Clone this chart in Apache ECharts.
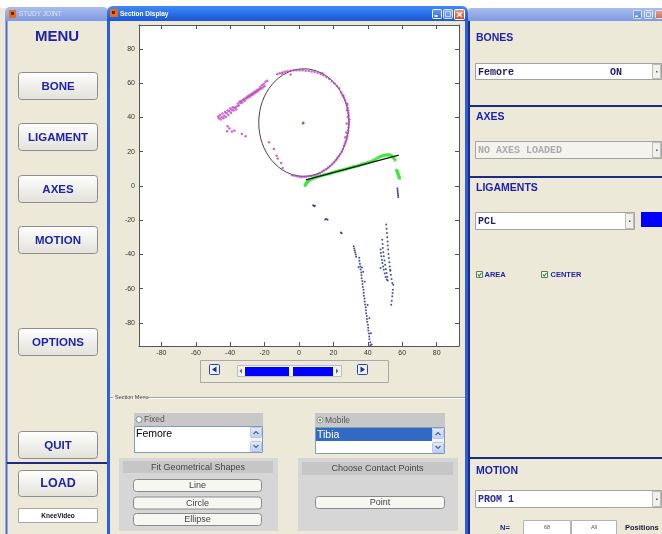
<!DOCTYPE html>
<html><head><meta charset="utf-8">
<script src="https://cdn.jsdelivr.net/npm/echarts@6/dist/echarts.min.js"></script>
<style>html,body{margin:0;padding:0;background:#fff;overflow:hidden}#c{width:662px;height:534px}</style>
</head><body><div id="c"></div>
<script>
// ---------- data ----------
const xTicks = [-80, -60, -40, -20, 0, 20, 40, 60, 80];
const yTicks = [-80, -60, -40, -20, 0, 20, 40, 60, 80];
const xRange = [-93, 93];
const yRange = [-93.5, 94];

// femur contour (magenta)
const femurPoints = [
  [-12.6,65.2],[-11.2,65.8],[-9.6,66.3],[-8.1,66.7],[-6.6,67.0],[-5.0,67.3],[-3.2,67.5],[-1.5,67.6],[0.4,67.6],[2.2,67.6],
  [3.9,67.3],[5.7,67.2],[7.4,66.9],[9.1,66.6],[10.9,66.1],[12.6,65.4],[14.3,64.6],[15.9,63.6],[17.6,62.5],[19.1,61.2],
  [20.6,59.8],[22.0,58.4],[23.3,57.0],[24.5,54.6],[25.4,53.0],[26.2,51.5],[26.8,50.0],[27.4,48.5],[27.9,47.0],[28.3,45.5],
  [28.6,44.0],[28.7,42.5],[28.9,41.0],[29.2,39.0],[29.1,37.5],[29.0,35.9],[28.8,34.2],[28.5,32.5],[28.2,30.8],[28.0,29.2],
  [27.6,27.6],[27.2,26.1],[26.7,24.8],[26.1,23.4],[25.5,21.6],[24.9,20.0],[24.0,18.7],[23.0,17.4],[22.2,16.2],[21.3,15.0],
  [20.3,13.8],[19.2,12.6],[18.1,11.6],[17.0,10.7],[15.8,9.8],[14.6,9.0],[13.4,8.3],[12.2,7.6],[10.9,7.0],[9.6,6.4],
  [8.3,6.1],[7.0,5.8],[5.6,5.6],[4.2,5.4],[2.9,5.3],[1.5,5.2],[0.2,5.4],[-1.2,5.6],[-2.6,5.9],[-4.0,6.3],
  [27.9,44.2],[28.4,40.2],[27.7,36.4],[27.5,31.2],[26.9,28.4],[28.1,47.9],[25.8,52.7],[13.5,65.8],[-4.9,65.1],[-9.8,65.6],
  [-17.5,25.5],[-14.6,21.6],[-13.0,17.6],[-12.4,16.0],[-10.4,13.4],[-9.5,10.5],
  [-47.0,40.5],[-46.5,39.5],[-46.0,41.5],[-45.5,38.8],[-45.0,40.2],[-44.5,42.3],[-44.0,39.6],[-43.5,41.0],[-43.0,43.2],[-42.5,40.3],
  [-42.0,42.5],[-41.5,44.0],[-41.0,41.5],[-40.5,43.6],[-40.0,45.2],[-39.5,42.8],[-39.0,44.5],[-38.5,46.0],[-38.0,44.0],[-37.5,45.5],
  [-37.0,45.8],[-36.5,44.6],[-36.0,46.5],[-35.5,48.2],[-35.0,47.0],[-34.5,49.3],[-34.0,48.5],[-33.5,49.6],[-33.0,48.8],[-32.5,50.2],
  [-32.0,50.6],[-31.5,49.7],[-31.0,51.3],[-30.5,51.0],[-30.0,52.2],[-29.5,51.6],[-29.0,52.8],[-28.5,52.2],[-28.0,53.5],[-27.5,53.0],
  [-27.0,54.2],[-26.5,53.6],[-26.0,54.8],[-25.5,54.4],[-25.0,55.6],[-24.5,55.0],[-24.0,56.2],[-23.5,55.8],[-23.0,56.6],[-22.5,57.6],
  [-22.0,56.8],[-21.5,58.8],[-21.0,57.5],[-20.5,59.6],[-20.0,58.2],[-19.5,60.8],[-18.5,61.5],
  [-41.5,34.8],[-40.5,33.6],[-41.8,32.0],[-39.0,31.8],[-37.5,32.2],[-33.2,30.4],[-31.0,29.0]
];

// tibia contour (green)
const tibiaPoints = [
  [3.6,0.3],[3.9,1.0],[4.3,1.7],[4.8,2.3],[5.4,2.9],[6.1,3.4],[6.9,3.8],[7.8,4.2],[8.8,4.6],[9.8,5.1],
  [10.8,5.4],[11.8,5.7],[12.8,5.9],[13.8,6.2],[14.8,6.5],[15.8,6.7],[16.8,7.0],[17.8,7.3],[18.8,7.6],[19.8,7.9],
  [20.8,8.1],[21.8,8.4],[22.8,8.7],[23.8,9.0],[24.8,9.2],[25.8,9.5],[26.8,9.8],[27.8,10.1],[28.8,10.3],[29.8,10.6],
  [30.8,10.9],[31.8,11.2],[32.8,11.4],[33.8,11.7],[34.8,12.0],[35.8,12.3],[36.8,12.6],[37.8,12.9],[38.8,13.2],[39.8,13.5],
  [40.8,13.8],[41.8,14.2],[42.8,14.7],[43.8,15.2],[44.8,15.8],[45.8,16.4],[46.8,16.9],[47.8,17.3],[48.8,17.6],[49.8,17.9],
  [50.8,18.1],[51.8,18.2],[52.8,18.0],[53.8,17.6],[54.6,16.9],[55.3,16.0],[55.8,15.1],
  [56.8,9.2],[57.1,8.4],[57.4,7.6],[57.7,6.8],[58.0,6.0],[58.2,5.2],[58.4,4.5]
];

// ligament points (blue)
const ligamentPoints = [
  [8.2,-11.3],[8.8,-11.8],[9.3,-11.6],[15.2,-19.6],[15.9,-19.3],[16.6,-19.8],[24.3,-27.2],[24.8,-27.6],
  [57.2,-1.5],[57.3,-2.5],[57.4,-3.5],[57.5,-4.5],[57.6,-5.5],[57.7,-6.5],
  [31.8,-35.3],[32.1,-36.5],[32.4,-37.7],[32.7,-38.9],[33.0,-40.1],[33.2,-41.3],
  [35.0,-42.0],[35.1,-43.7],[35.4,-45.4],[35.6,-47.1],[35.8,-48.8],[36.2,-50.5],[36.3,-52.2],[36.4,-53.9],[36.8,-55.6],[36.9,-57.3],
  [37.1,-59.0],[37.5,-60.7],[37.6,-62.4],[37.7,-64.1],[38.1,-65.8],[38.2,-67.5],[38.4,-69.2],[38.8,-70.9],[38.9,-72.6],[39.0,-74.3],
  [39.4,-76.0],[39.5,-77.7],[39.6,-79.4],[40.1,-81.1],[40.2,-82.8],[40.3,-84.5],[40.7,-86.2],[40.8,-87.9],[40.9,-89.6],[41.4,-91.3],[41.5,-93.0],
  [34.6,-47.5],[36.6,-47.6],[37.3,-50.1],[38.2,-55.9],[39.9,-69.5],[40.9,-77.3],[41.8,-86.1],[42.2,-92.6],
  [50.7,-22.6],[50.9,-25.0],[51.1,-27.5],[51.3,-30.0],[51.5,-32.4],[51.6,-34.8],[51.8,-37.2],[52.0,-39.7],[52.2,-42.1],[52.5,-44.6],
  [52.8,-47.0],[53.1,-49.5],[53.4,-51.9],[53.8,-54.3],[54.2,-56.7],[54.8,-57.7],[54.6,-60.6],[54.4,-62.6],[54.2,-64.5],[53.9,-67.0],[53.6,-69.4],
  [48.4,-31.4],[48.6,-33.9],[48.7,-36.3],[49.0,-38.7],[49.3,-41.1],[49.7,-43.6],[50.1,-46.0],[50.5,-48.5],[50.9,-50.9],[51.3,-53.1],[51.6,-55.2],
  [47.4,-37.2],[47.6,-39.2],[47.8,-41.1],[48.2,-43.1],[48.5,-45.0],[48.9,-47.0],[49.3,-48.9],[49.8,-51.1],[50.3,-53.2],[51.0,-54.6],
  [47.4,-48.0],[53.0,-49.0]
];

const fitLine = [[4, 3.5], [58, 18]];
const fitCircle = [[2.8, 37, 26.2, 31.4]];   // cx, cy, rx, ry
const circleCenter = [[2.4, 36.8]];

// GUI texts
const menuTitle = 'MENU';
const menuButtons = ['BONE', 'LIGAMENT', 'AXES', 'MOTION', 'OPTIONS', 'QUIT'];
const loadLabel = 'LOAD';
const videoLabel = 'KneeVideo';
const panelTitles = ['BONES', 'AXES', 'LIGAMENTS', 'MOTION'];
const shapeButtons = ['Line', 'Circle', 'Ellipse'];

// ---------- layout ----------
const FF = '"Liberation Sans", Arial, sans-serif';
const MONO = '"Liberation Mono", "Courier New", monospace';
const BLUE = '#1f22b0';
const G = [];
function grad(c1, c2) { return new echarts.graphic.LinearGradient(0, 0, 0, 1, [{offset:0,color:c1},{offset:1,color:c2}]); }
function R(x, y, w, h, fill, stroke, lw, r, z) {
  G.push({type:'rect', silent:true, z: z == null ? -6 : z, shape:{x, y, width:w, height:h, r: r || 0},
    style:{fill: fill || 'none', stroke: stroke || 'none', lineWidth: lw || 1}});
}
function L(x1, y1, x2, y2, c, lw, z) {
  G.push({type:'line', silent:true, z: z == null ? -4 : z, shape:{x1, y1, x2, y2}, style:{stroke:c, lineWidth: lw || 1}});
}
function P(points, fill, z) { G.push({type:'polygon', silent:true, z: z == null ? -3 : z, shape:{points}, style:{fill}}); }
function PL(points, c, lw, z) { G.push({type:'polyline', silent:true, z: z == null ? -3 : z, shape:{points}, style:{stroke:c, lineWidth: lw || 1, fill:'none'}}); }
function C(cx, cy, r, fill, stroke, z) { G.push({type:'circle', silent:true, z: z == null ? -3 : z, shape:{cx, cy, r}, style:{fill, stroke: stroke || 'none', lineWidth:1}}); }
function T(x, y, t, font, c, align, z) {
  G.push({type:'text', silent:true, z: z == null ? -2 : z, x, y, style:{text:t, font, fill:c, align: align || 'left', verticalAlign:'middle'}});
}

// top strip and window backgrounds
R(0, 0, 662, 8, '#ffffff', null, 1, 0, -9);
R(5, 21, 103, 513, '#ece9d8', null, 1, 0, -9);
R(108, 21, 360, 513, '#ece9d8', null, 1, 0, -9);
R(468, 21, 194, 513, '#ece9d8', null, 1, 0, -9);
// plot background
R(139, 25, 320, 321, '#ffffff', null, 1, 0, -7);

// title bars
R(5, 7, 103, 14, grad('#a9bdf0', '#7e99e0'), null, 1, [5, 5, 0, 0], -8);
R(9, 10, 7, 8, '#e0701c', null, 1, 0, -5); R(11, 12, 3, 3, '#7a1a00', null, 1, 0, -4);
T(19, 14.5, 'STUDY JOINT', '6.5px ' + FF, '#dbe3f8');
R(107, 6, 361, 15, grad('#3f8af7', '#1b55d8'), null, 1, [6, 6, 0, 0], -8);
R(110, 9, 8, 8, '#e0701c', null, 1, 0, -5); R(112, 11, 3, 3, '#7a1a00', null, 1, 0, -4);
T(120, 14, 'Section Display', 'bold 6.5px ' + FF, '#ffffff');
R(432.5, 9.5, 9, 9, grad('#6aa0f8', '#2d63e2'), '#ffffff', 1, 1, -5); R(434.5, 15, 3, 2, '#ffffff', null, 1, 0, -4);
R(443.5, 9.5, 9, 9, grad('#8fb2f6', '#5b87ea'), '#dfe8fb', 1, 1, -5); R(445.5, 11.5, 5, 5, 'none', '#c8d6f6', 1, 0, -4);
R(454.5, 9.5, 10, 10, grad('#ee9a7e', '#d4451f'), '#ffffff', 1, 1, -5);
L(457, 12, 462, 17, '#ffffff', 1.5, -3); L(462, 12, 457, 17, '#ffffff', 1.5, -3);
R(468, 8, 194, 13, grad('#a9bdf0', '#7e99e0'), null, 1, [4, 0, 0, 0], -8);
R(633.5, 10.5, 8, 8, grad('#7ea6f2', '#5a85e6'), '#e0e8fb', 1, 1, -5); R(635, 15.5, 3, 1.5, '#ffffff', null, 1, 0, -4);
R(644.5, 10.5, 8, 8, grad('#9fbcf4', '#7a9eec'), '#e0e8fb', 1, 1, -5); R(646.5, 12.5, 4, 4, 'none', '#d7e1f8', 1, 0, -4);
R(655.5, 10.5, 8, 8, grad('#e8a690', '#d06a50'), '#f0e0e0', 1, 1, -5);

// window frames
L(6.5, 21, 6.5, 534, '#4a68d6', 2);
L(108.5, 21, 108.5, 534, '#2b5ee0', 3);
L(466.5, 21, 466.5, 534, '#2b5ee0', 3);
L(469, 21, 469, 534, '#1f2a86', 2);

// ---- left menu ----
T(57, 37, menuTitle, 'bold 15px ' + FF, BLUE, 'center');
const menuY = [72, 123, 175, 226, 328, 431];
menuButtons.forEach((b, i) => {
  R(18.5, menuY[i] + 0.5, 79, 27, grad('#fefefd', '#e2e1d9'), '#8d8d8d', 1, 3);
  T(58, menuY[i] + 14.5, b, 'bold 11.5px ' + FF, BLUE, 'center');
});
L(7, 463, 107, 463, '#1f2a86', 2);
R(18.5, 470.5, 79, 26, grad('#fefefd', '#e2e1d9'), '#8d8d8d', 1, 3);
T(58, 484, loadLabel, 'bold 12.5px ' + FF, BLUE, 'center');
R(18.5, 508.5, 79, 14, '#ffffff', '#a8a8a8');
T(58, 516, videoLabel, 'bold 6.5px ' + FF, '#111111', 'center');

// ---- section display lower part ----
R(200.5, 360.5, 188, 22, 'none', '#a9a9a9');
R(209.5, 364.5, 10, 10, '#f2f2fa', '#2040d0', 1, 1);
P([[216.5, 366.5], [216.5, 372.5], [212, 369.5]], '#1a2aa0');
R(357.5, 364.5, 10, 10, '#f2f2fa', '#2040d0', 1, 1);
P([[360.5, 366.5], [360.5, 372.5], [365, 369.5]], '#1a2aa0');
R(237.5, 365.5, 104, 11, '#f3f3f1', '#bdbdbd');
P([[242, 368.5], [242, 373.5], [239.5, 371]], '#666666');
P([[336, 368.5], [336, 373.5], [338.5, 371]], '#666666');
R(245, 367, 44, 9, '#0000ff', null, 1, 0, -3);
R(293, 367, 40, 9, '#0000ff', null, 1, 0, -3);

L(110, 397.5, 113, 397.5, '#a4a4a0');
T(115, 397.5, 'Section Menu', '5.5px ' + FF, '#333333');
L(148, 397.5, 465, 397.5, '#a4a4a0');
L(110, 398.5, 465, 398.5, '#ffffff');

// fixed
R(134, 413, 129, 13, '#c8c8c8');
C(139, 419.5, 3, '#ffffff', '#8a8a8a');
T(144, 420, 'Fixed', '8.5px ' + FF, '#555555');
R(134.5, 426.5, 128, 26, '#ffffff', '#7f9db9');
T(136, 434.5, 'Femore', '10.5px ' + FF, '#000000');
R(250.5, 427.5, 11, 24, '#f4f3ee');
R(250.5, 427.5, 11, 10, grad('#e4ecfd', '#bccff8'), '#b4c6ee', 1, 1);
PL([[253.5, 434], [256, 431.5], [258.5, 434]], '#4d6185', 1.2);
R(250.5, 441.5, 11, 10, grad('#e4ecfd', '#bccff8'), '#b4c6ee', 1, 1);
PL([[253.5, 445], [256, 447.5], [258.5, 445]], '#4d6185', 1.2);

// mobile
R(315, 413, 130, 14, '#c8c8c8');
C(320, 420, 3, '#ffffff', '#8a8a8a'); C(320, 420, 1.3, '#3a9a3a');
T(325, 420.5, 'Mobile', '8.5px ' + FF, '#555555');
R(315.5, 427.5, 129, 26, '#ffffff', '#7f9db9');
R(316, 428, 116, 13, '#316ac5', null, 1, 0, -5);
T(317, 435, 'Tibia', '10.5px ' + FF, '#ffffff');
R(432.5, 428.5, 11, 24, '#f4f3ee');
R(432.5, 428.5, 11, 10, grad('#e4ecfd', '#bccff8'), '#b4c6ee', 1, 1);
PL([[435.5, 435], [438, 432.5], [440.5, 435]], '#4d6185', 1.2);
R(432.5, 442.5, 11, 10, grad('#e4ecfd', '#bccff8'), '#b4c6ee', 1, 1);
PL([[435.5, 446], [438, 448.5], [440.5, 446]], '#4d6185', 1.2);

// fit shapes panel
R(119, 458, 159, 73, '#d6d6d6');
R(123, 461, 150, 12, '#c6c6c6');
T(198, 467.5, 'Fit Geometrical Shapes', '9px ' + FF, '#444444', 'center');
const shapeY = [479, 496.5, 513];
shapeButtons.forEach((b, i) => {
  R(133.5, shapeY[i] + 0.5, 128, 12, '#f6f6f3', '#8a8a8a', 1, 3);
  T(197.5, shapeY[i] + 7, b, '9px ' + FF, '#444444', 'center');
});
// contact points panel
R(298, 458, 160, 73, '#d6d6d6');
R(302, 462, 151, 13, '#c6c6c6');
T(377.5, 468.5, 'Choose Contact Points', '9px ' + FF, '#444444', 'center');
R(315.5, 496.5, 129, 12, '#f6f6f3', '#8a8a8a', 1, 3);
T(380, 503, 'Point', '9px ' + FF, '#444444', 'center');

// ---- right window ----
function dropdown(x, y, w, h, txt, right, color, fill) {
  R(x + 0.5, y + 0.5, w, h, fill || '#ffffff', '#a4a4a4');
  R(x + w - 8.5, y + 1.5, 8, h - 2, '#f1f0ea', '#bcbcbc');
  R(x + w - 5, y + h / 2, 1.5, 1.5, '#555555', null, 1, 0, -3);
  T(x + 3, y + h / 2 + 1, txt, 'bold 10px ' + MONO, color);
  if (right) T(x + 135, y + h / 2 + 1, right, 'bold 10px ' + MONO, color);
}
T(476, 38, panelTitles[0], 'bold 10.5px ' + FF, BLUE);
dropdown(475, 63, 186, 16, 'Femore', 'ON', '#1c1c6e');
L(469, 106, 662, 106, '#1f2a86', 2);
T(476, 117, panelTitles[1], 'bold 10.5px ' + FF, BLUE);
dropdown(475, 141, 186, 17, 'NO AXES LOADED', null, '#ababab', '#f4f3ee');
L(469, 177, 662, 177, '#1f2a86', 2);
T(476, 188, panelTitles[2], 'bold 10.5px ' + FF, BLUE);
dropdown(475, 212, 159, 17, 'PCL', null, '#1c1c6e');
R(641, 212, 21, 15, '#0000ff');
R(476.5, 271.5, 6, 6, '#ffffff', '#5a7f5a');
PL([[477.8, 274.5], [479.2, 276], [481.5, 272.8]], '#2a9a2a', 1.2);
T(484.5, 275, 'AREA', 'bold 7.5px ' + FF, BLUE);
R(541.5, 271.5, 6, 6, '#ffffff', '#5a7f5a');
PL([[542.8, 274.5], [544.2, 276], [546.5, 272.8]], '#2a9a2a', 1.2);
T(550.5, 275, 'CENTER', 'bold 7.5px ' + FF, BLUE);
L(469, 458, 662, 458, '#1f2a86', 2);
T(476, 471, panelTitles[3], 'bold 10.5px ' + FF, BLUE);
dropdown(475, 490, 186, 17, 'PROM 1', null, '#2a2aa0');
T(500, 527.5, 'N=', 'bold 7.5px ' + FF, '#1f2a86');
R(523.5, 520.5, 47, 14, '#ffffff', '#b4b4b4');
T(547, 527.5, '68', '5.5px ' + FF, '#555555', 'center');
R(571.5, 520.5, 45, 14, '#ffffff', '#b4b4b4');
T(594, 527.5, 'All', '5.5px ' + FF, '#555555', 'center');
T(625, 527.5, 'Positions', 'bold 7.5px ' + FF, '#1a1a3a');

// ---------- chart ----------
const axisCommon = {
  type: 'value', splitLine: {show: false},
  axisLine: {show: true, onZero: false, lineStyle: {color: '#555555', width: 1}},
  axisTick: {show: true, inside: true, length: 4, lineStyle: {color: '#555555'}},
};
const chart = echarts.init(document.getElementById('c'), null, {renderer: 'canvas'});
chart.setOption({
  animation: false,
  backgroundColor: '#ece9d8',
  grid: {left: 139, top: 25, width: 320, height: 321, show: false},
  xAxis: [
    Object.assign({}, axisCommon, {min: xRange[0], max: xRange[1], position: 'bottom',
      axisTick: Object.assign({}, axisCommon.axisTick, {customValues: xTicks}),
      axisLabel: {customValues: xTicks, fontSize: 7, color: '#333333', margin: 4, fontFamily: 'Liberation Sans'}}),
    Object.assign({}, axisCommon, {min: xRange[0], max: xRange[1], position: 'top',
      axisTick: Object.assign({}, axisCommon.axisTick, {customValues: xTicks}),
      axisLabel: {show: false}})
  ],
  yAxis: [
    Object.assign({}, axisCommon, {min: yRange[0], max: yRange[1], position: 'left',
      axisTick: Object.assign({}, axisCommon.axisTick, {customValues: yTicks}),
      axisLabel: {customValues: yTicks, fontSize: 7, color: '#333333', margin: 4, fontFamily: 'Liberation Sans'}}),
    Object.assign({}, axisCommon, {min: yRange[0], max: yRange[1], position: 'right',
      axisTick: Object.assign({}, axisCommon.axisTick, {customValues: yTicks}),
      axisLabel: {show: false}})
  ],
  graphic: {elements: G},
  series: [
    {type: 'scatter', name: 'Femore', data: femurPoints, symbol: 'circle', symbolSize: 2.5,
      itemStyle: {color: '#c040c8'}, silent: true},
    {type: 'scatter', name: 'PCL', data: ligamentPoints, symbol: 'circle', symbolSize: 2,
      itemStyle: {color: '#20208a'}, silent: true},
    {type: 'custom', name: 'Circle fit', data: fitCircle, encode: {x: 0, y: 1}, silent: true, clip: false,
      renderItem: function (params, api) {
        const c = api.coord([api.value(0), api.value(1)]);
        const s = api.size([api.value(2), api.value(3)]);
        return {type: 'ellipse', shape: {cx: c[0], cy: c[1], rx: s[0], ry: s[1]},
          style: {fill: 'none', stroke: '#444444', lineWidth: 1}};
      }},
    {type: 'line', name: 'Line fit', data: fitLine, symbol: 'none', lineStyle: {color: '#111111', width: 1.2}, silent: true},
    {type: 'scatter', name: 'Tibia', data: tibiaPoints, symbol: 'circle', symbolSize: 3.5,
      itemStyle: {color: '#2ee82e'}, silent: true},
    {type: 'scatter', name: 'Center', data: circleCenter, symbol: 'circle', symbolSize: 3,
      itemStyle: {color: '#1a7a1a'}, silent: true}
  ]
});
</script></body></html>
